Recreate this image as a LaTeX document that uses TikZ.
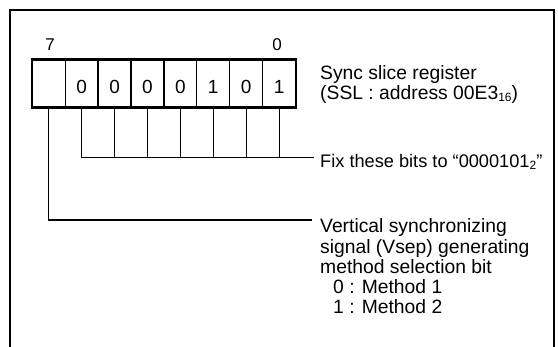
\documentclass[tikz,border=0pt]{standalone}
\usepackage{fontspec}
\setmainfont{Liberation Sans}
\newcommand{\subsm}[1]{{\fontsize{12}{12}\selectfont\raisebox{-2pt}{#1}}}
\begin{document}
\begin{tikzpicture}[x=1pt,y=1pt,
  cell/.style={draw, line width=1.3pt, minimum width=32.9pt, minimum height=47pt, inner sep=0pt,
    text height=21pt, text depth=0pt, font=\fontsize{19}{19}\selectfont},
  lbl/.style={font=\fontsize{19.3}{20.3}\selectfont, align=left, inner sep=0pt, anchor=base west},
  bitnum/.style={font=\fontsize{17}{17}\selectfont, inner sep=0pt},
  tick/.style={line width=0.9pt},
  frame/.style={line width=2pt}]
\useasboundingbox (0,0) rectangle (558,347);
\draw[frame] (10,0) -- (10,337) -- (554,337) -- (554,0);
\foreach \k/\b/\v in {0/7/{},1/6/0,2/5/0,3/4/0,4/3/0,5/2/1,6/1/0,7/0/1}
  \node[cell] (b\b) at ({48.75+\k*32.9},263.5) {\v};
\draw[frame] (b7.north west) rectangle (b0.south east);
\node[bitnum] (n7) at (50,302) {7};
\node[bitnum] (n0) at (277,302) {0};
\coordinate (fixend) at (314,190);
\draw[tick] (b6.south) |- (fixend);
\foreach \b in {5,4,3,2,1,0}
  \draw[tick] (b\b.south) -- (b\b.south |- fixend);
\coordinate (vend) at (312,127);
\draw[tick, line width=1.2pt] (b7.south) |- (vend);
\node[lbl, font=\fontsize{19.3}{20}\selectfont] (sync) at (320,247) {Sync slice register\\(SSL : address 00E3\subsm{16})};
\node[lbl, font=\fontsize{18.2}{18.2}\selectfont] (fix) at (320,179) {Fix these bits to “0000101\subsm{2}”};
\node[lbl] (vert) at (320,33) {Vertical synchronizing\\signal (Vsep) generating\\method selection bit\\\hspace*{13pt}0 : Method 1\\\hspace*{13pt}1 : Method 2};
\end{tikzpicture}
\end{document}
